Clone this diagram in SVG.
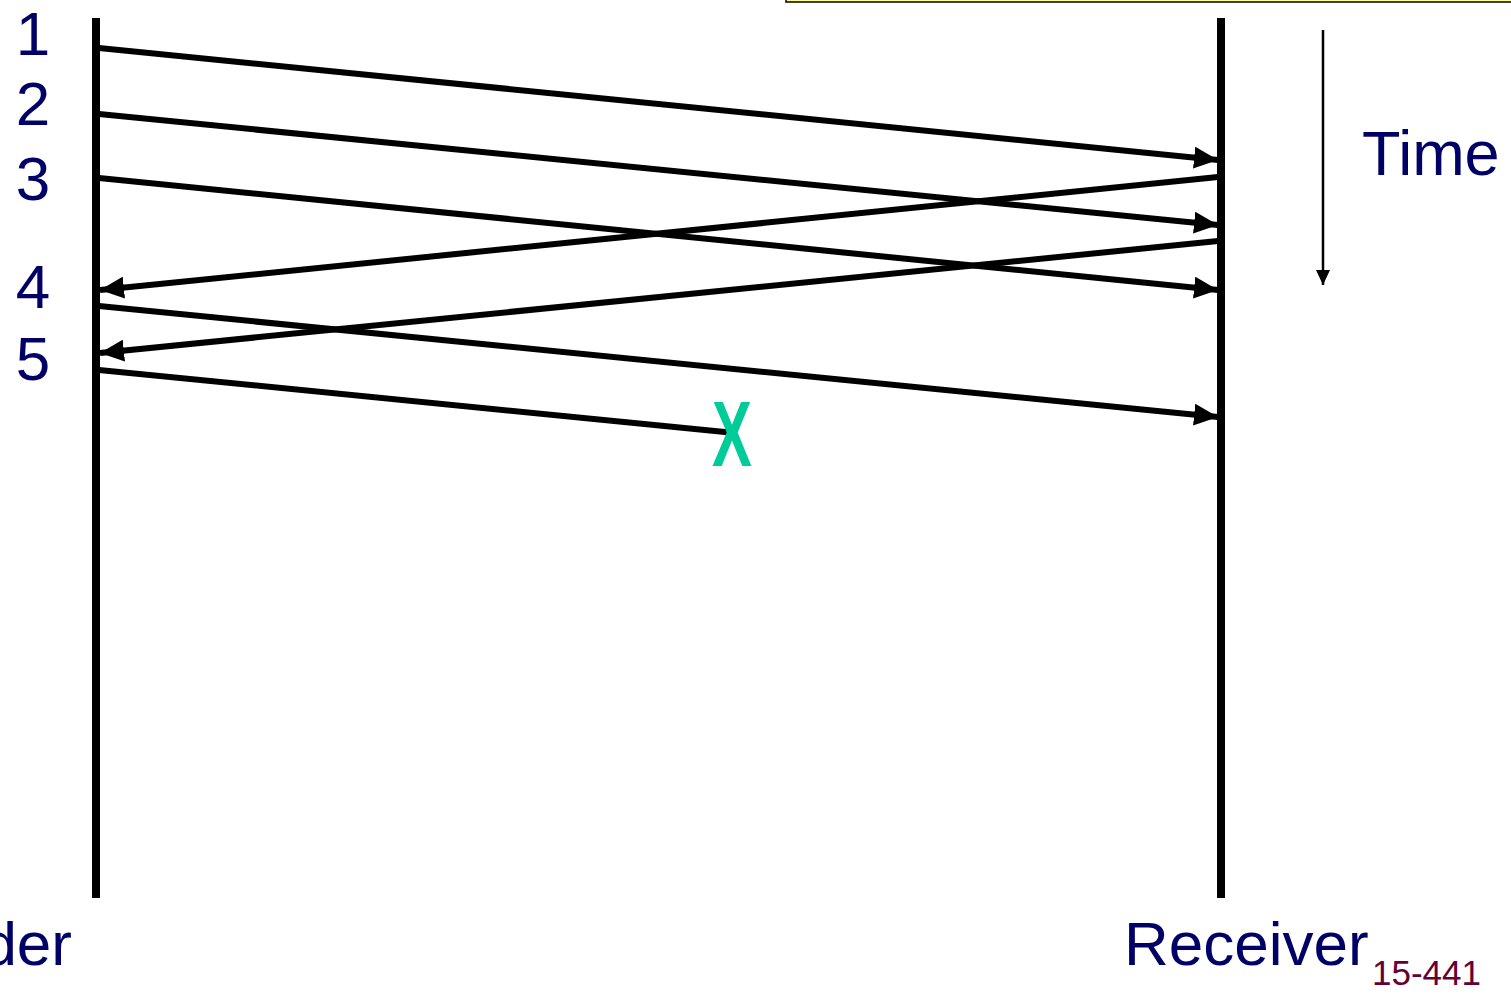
<svg xmlns="http://www.w3.org/2000/svg" width="1511" height="997" viewBox="0 0 1511 997">
<style>
.lbl{font-family:"Liberation Sans",Arial,sans-serif;fill:#000066}
.life{stroke:#000;stroke-width:8}
.msg{stroke:#000;stroke-width:6;fill:none}
</style>
<defs>
<marker id="ah" markerUnits="userSpaceOnUse" markerWidth="26" markerHeight="22" refX="24" refY="11" orient="auto">
<path d="M0,0 L24,11 L0,22 Z" fill="#000"/>
</marker>
<marker id="ahs" markerUnits="userSpaceOnUse" markerWidth="16" markerHeight="14" refX="15" refY="7" orient="auto">
<path d="M0,0 L15,7 L0,14 Z" fill="#000"/>
</marker>
</defs>
<rect width="1511" height="997" fill="#fff"/>
<rect x="786" y="-20" width="740" height="22" fill="#ffff99" stroke="#000" stroke-width="1.5"/>
<g id="sender">
<line class="life" x1="96" y1="18" x2="96" y2="898"/>
<text class="lbl" x="72" y="965" font-size="62" text-anchor="end">Sender</text>
</g>
<g id="receiver">
<line class="life" x1="1221" y1="18" x2="1221" y2="898"/>
<text class="lbl" x="1124" y="965" font-size="62">Receiver</text>
</g>
<g id="labels">
<text class="lbl" x="33" y="55" font-size="62" text-anchor="middle">1</text>
<text class="lbl" x="33" y="125" font-size="62" text-anchor="middle">2</text>
<text class="lbl" x="33" y="200" font-size="62" text-anchor="middle">3</text>
<text class="lbl" x="33" y="308" font-size="62" text-anchor="middle">4</text>
<text class="lbl" x="33" y="380" font-size="62" text-anchor="middle">5</text>
<text class="lbl" x="1362" y="175" font-size="63">Time</text>
</g>
<g id="time-axis">
<line x1="1323" y1="30" x2="1323" y2="285" stroke="#000" stroke-width="2.5" marker-end="url(#ahs)"/>
</g>
<g id="connectors">
<line class="msg" x1="99" y1="48" x2="1218" y2="160" marker-end="url(#ah)"/>
<line class="msg" x1="99" y1="114" x2="1218" y2="225" marker-end="url(#ah)"/>
<line class="msg" x1="99" y1="178" x2="1218" y2="290" marker-end="url(#ah)"/>
<line class="msg" x1="1218" y1="177" x2="100" y2="290" marker-end="url(#ah)"/>
<line class="msg" x1="1218" y1="241" x2="100" y2="353" marker-end="url(#ah)"/>
<line class="msg" x1="99" y1="306" x2="1218" y2="417" marker-end="url(#ah)"/>
<line class="msg" x1="99" y1="370" x2="735" y2="433"/>
</g>
<g id="loss">
<text x="0" y="0" font-family="Liberation Sans, Arial, sans-serif" font-weight="bold" font-size="92" fill="#00cc99" transform="translate(712,466) scale(0.65,1)">X</text>
</g>
<g id="footer">
<text x="1372" y="985" font-family="Liberation Sans, Arial, sans-serif" font-size="35" fill="#660033">15-441</text>
</g>
</svg>
